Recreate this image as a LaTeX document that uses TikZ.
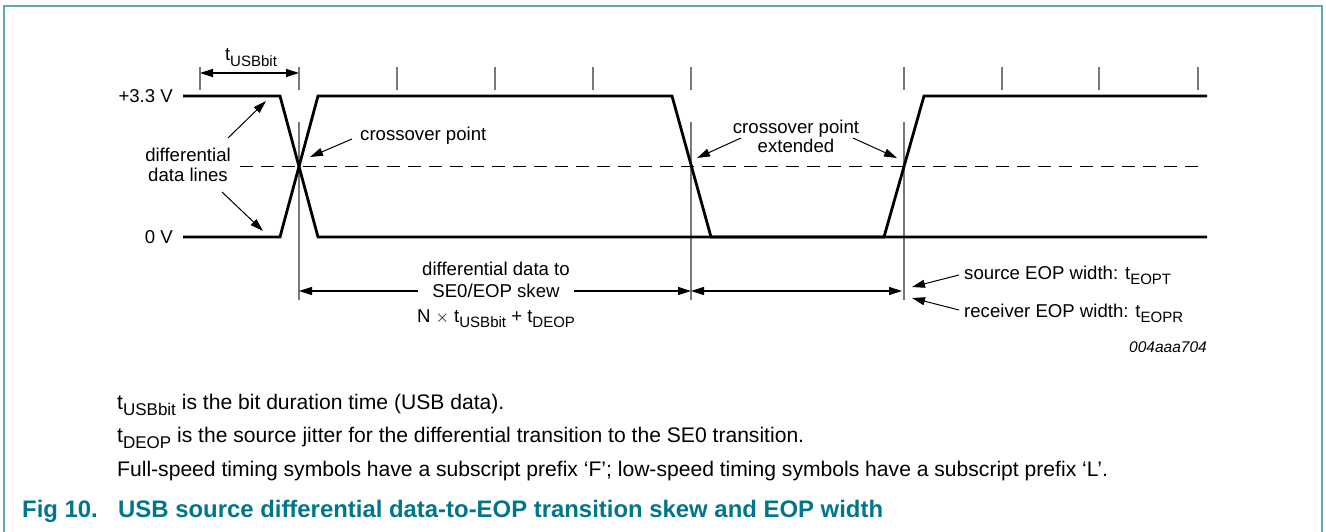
\documentclass[tikz,border=0pt]{standalone}
\usepackage{fontspec}
\setmainfont{Liberation Sans}
\usetikzlibrary{arrows.meta}
\definecolor{framec}{RGB}{95,168,188}
\definecolor{captc}{RGB}{0,118,140}
\definecolor{tickc}{RGB}{120,120,120}
\newcommand\subt[1]{\raisebox{-0.3em}{\fontsize{15}{15}\selectfont #1}}
\newcommand\subn[1]{\raisebox{-0.3em}{\fontsize{17}{17}\selectfont #1}}
\begin{document}
\begin{tikzpicture}[x=1pt,y=-1pt,
  sig/.style={line width=2.8pt,line join=miter},
  thin/.style={line width=1.3pt,tickc},
  dim/.style={line width=1.2pt,black},
  tip/.style={-{Triangle[length=13pt,width=8pt]}},
  tips/.style={{Triangle[length=13pt,width=8pt]}-{Triangle[length=13pt,width=8pt]}},
  lbl/.style={inner sep=0pt,font=\fontsize{18.6}{22}\selectfont},
  note/.style={inner sep=0pt,anchor=base west,font=\fontsize{21.1}{25}\selectfont},
  capt/.style={inner sep=0pt,anchor=base west,text=captc,font=\fontsize{23.9}{28}\selectfont\bfseries}]
\useasboundingbox (0,0) rectangle (1326,532);
\draw[framec,line width=2pt] (4,532) -- (4,6) -- (1322,6) -- (1322,532);

% ticks
\foreach \x/\n in {200/a,299/b,397/c,495/d,593/e,691/f,904/g,1002/h,1099/i,1198/j}{
  \coordinate (tt\n) at (\x,67);
  \coordinate (tb\n) at (\x,90);
  \draw[thin] (tt\n) -- (tb\n);
}
% long extension lines
\foreach \x/\n in {299/b,691/f,904/g}{
  \coordinate (lt\n) at (\x,122);
  \coordinate (lb\n) at (\x,300);
  \draw[thin] (lt\n) -- (lb\n);
}
% t_USBbit dimension
\coordinate (ua) at (200,73);
\coordinate (ub) at (299,73);
\draw[dim,tips] (ua) -- (ub);
\node[lbl,anchor=base] (tusb) at (251,61) {t\subt{USBbit}};

% dashed crossover level
\coordinate (da) at (240,166.5);
\coordinate (db) at (1203,166.5);
\draw[line width=1.3pt,dash pattern=on 13pt off 8pt] (da) -- (db);

% waveforms
\coordinate (a0) at (183,96);
\coordinate (a1) at (280,96);
\coordinate (a2) at (318,237);
\coordinate (a3) at (1207,237);
\draw[sig] (a0) -- (a1) -- (a2) -- (a3);
\coordinate (b0) at (183,237);
\coordinate (b1) at (280,237);
\coordinate (b2) at (318,96);
\coordinate (b3) at (672,96);
\coordinate (b4) at (711,237);
\coordinate (b5) at (884,237);
\coordinate (b6) at (924,96);
\coordinate (b7) at (1207,96);
\draw[sig] (b0) -- (b1) -- (b2) -- (b3) -- (b4) -- (b5) -- (b6) -- (b7);

% level labels
\node[lbl,anchor=east] (hi) at (173,96) {+3.3 V};
\node[lbl,anchor=east] (lo) at (173,237) {0 V};

% differential data lines
\node[lbl,align=center] (ddl) at (188,165) {differential\\[-2pt]data lines};
\coordinate (ddl1s) at (228,138);
\coordinate (ddl1e) at (266,101);
\coordinate (ddl2s) at (222,192);
\coordinate (ddl2e) at (263,231);
\draw[dim,tip,line width=1pt] (ddl1s) -- (ddl1e);
\draw[dim,tip,line width=1pt] (ddl2s) -- (ddl2e);

% crossover point
\node[lbl,anchor=west] (cp) at (360,136) {crossover point};
\coordinate (cpe) at (310,157);
\draw[dim,tip,line width=1pt] (352,139) -- (cpe);

% crossover point extended
\node[lbl,align=center] (cpx) at (796,136) {crossover point\\[-3pt]extended};
\coordinate (cx1s) at (741,138);
\coordinate (cx1e) at (697,158);
\coordinate (cx2s) at (853,138);
\coordinate (cx2e) at (897,158);
\draw[dim,tip,line width=1pt] (cx1s) -- (cx1e);
\draw[dim,tip,line width=1pt] (cx2s) -- (cx2e);

% skew dimension
\node[lbl] (sk1) at (496,269) {differential data to};
\node[lbl,inner xsep=14pt] (sk2) at (496,291) {SE0/EOP skew};
\node[lbl,anchor=base] (sk3) at (496,322) {N $\times$ t\subt{USBbit} + t\subt{DEOP}};
\coordinate (sl) at (299,291);
\coordinate (sr) at (691,291);
\coordinate (el) at (691,291);
\coordinate (er) at (902,291);
\draw[dim,tip] (sk2.west) -- (sl);
\draw[dim,tip] (sk2.east) -- (sr);
\draw[dim,tips] (el) -- (er);

% EOP width labels
\node[lbl,anchor=base west] (src) at (964,279) {source EOP width: t\subt{EOPT}};
\node[lbl,anchor=base west] (rcv) at (964,317) {receiver EOP width: t\subt{EOPR}};
\coordinate (srce) at (912,287);
\coordinate (rcve) at (912,298);
\draw[dim,tip,line width=1pt] (959,275) -- (srce);
\draw[dim,tip,line width=1pt] (959,310) -- (rcve);

\node[inner sep=0pt,anchor=base east,font=\fontsize{15.5}{18}\selectfont\itshape] (id) at (1207,352) {004aaa704};

% notes
\node[note] (n1) at (117,409) {t\subn{USBbit} is the bit duration time (USB data).};
\node[note] (n2) at (117,442) {t\subn{DEOP} is the source jitter for the differential transition to the SE0 transition.};
\node[note] (n3) at (117,476) {Full-speed timing symbols have a subscript prefix ‘F’; low-speed timing symbols have a subscript prefix ‘L’.};
\node[capt] (c1) at (22,517) {Fig 10.};
\node[capt] (c2) at (118,517) {USB source differential data-to-EOP transition skew and EOP width};
\end{tikzpicture}
\end{document}
